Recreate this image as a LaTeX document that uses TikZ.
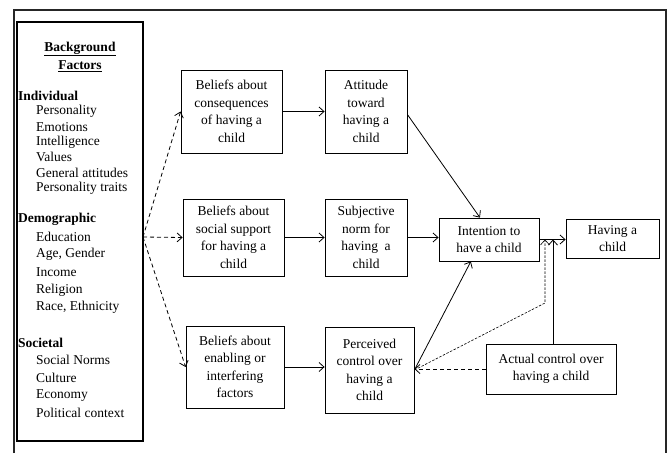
\documentclass[tikz,border=0pt]{standalone}
\usepackage{fontspec}
\setmainfont{Liberation Serif}
\usetikzlibrary{arrows.meta,calc}
\begin{document}
\begin{tikzpicture}[x=1pt,y=-1pt,
  box/.style={draw, line width=0.8pt, align=center, inner sep=0pt, font=\fontsize{13.5}{17.5}\selectfont},
  lbl/.style={anchor=west, inner sep=0pt, font=\fontsize{13.5}{16}\selectfont},
  hd/.style={anchor=west, inner sep=0pt, font=\fontsize{13.5}{16}\selectfont\bfseries},
  ttl/.style={inner sep=0pt, font=\fontsize{13.5}{16}\selectfont\bfseries},
  arr/.style={line width=0.8pt, -{Straight Barb[length=5pt,width=9pt]}},
  darr/.style={arr, dash pattern=on 4pt off 3pt},
  farr/.style={line width=0.6pt, dash pattern=on 2.5pt off 1.5pt, -{Straight Barb[length=5pt,width=9pt]}}
]
\useasboundingbox (0,0) rectangle (672,453);
\fill[white] (0,0) rectangle (672,453);
% outer frame
\draw[line width=1.6pt, black!85] (14,453) -- (14,10) -- (666,10) -- (666,453);

% background factors panel
\node[draw, line width=1.1pt, minimum width=126pt, minimum height=419pt, inner sep=0pt] (bg) at (80,231.5) {};
\node[ttl] (t1) at (80,49) {\underline{Background}};
\node[ttl] (t2) at (80,66) {\underline{Factors}};

\node[hd] (h1) at (18,96) {Individual};
\node[lbl] (i1) at (36,111) {Personality};
\node[lbl] (i2) at (36,127) {Emotions};
\node[lbl] (i3) at (36,142) {Intelligence};
\node[lbl] (i4) at (36,157) {Values};
\node[lbl] (i5) at (36,173) {General attitudes};
\node[lbl] (i6) at (36,188) {Personality traits};

\node[hd] (h2) at (18,219) {Demographic};
\node[lbl] (d1) at (36,237) {Education};
\node[lbl] (d2) at (36,254) {Age, Gender};
\node[lbl] (d3) at (36,272) {Income};
\node[lbl] (d4) at (36,290) {Religion};
\node[lbl] (d5) at (36,307) {Race, Ethnicity};

\node[hd] (h3) at (18,343) {Societal};
\node[lbl] (s1) at (36,360) {Social Norms};
\node[lbl] (s2) at (36,378) {Culture};
\node[lbl] (s3) at (36,396) {Economy};
\node[lbl] (s4) at (36,413) {Political context};

% boxes
\node[box, minimum width=101pt, minimum height=83pt] (b1) at (231.5,111.5) {Beliefs about\\consequences\\of having a\\child};
\node[box, minimum width=82pt, minimum height=83pt] (a) at (366,111.5) {Attitude\\toward\\having a\\child};
\node[box, minimum width=101pt, minimum height=77pt] (b2) at (233.5,237.5) {Beliefs about\\social support\\for having a\\child};
\node[box, minimum width=82pt, minimum height=77pt] (s) at (366,237.5) {Subjective\\norm for\\having\ \ a\\child};
\node[box, minimum width=98pt, minimum height=82pt] (b3) at (235,367) {Beliefs about\\enabling or\\interfering\\factors};
\node[box, minimum width=89pt, minimum height=86pt] (p) at (369.5,370) {Perceived\\control over\\having a\\child};
\node[box, minimum width=100pt, minimum height=43pt] (in) at (489,239.5) {Intention to\\have a child};
\node[box, minimum width=93pt, minimum height=39pt] (h) at (612.5,238.5) {Having a\\child};
\node[box, minimum width=130pt, minimum height=50pt] (ac) at (551,369) {Actual control over\\having a child};

% connectors
\coordinate (fork) at (143,237);
\draw[darr] (fork) -- (b1.west);
\draw[darr] (fork) -- (b2.west);
\draw[darr] (fork) -- (b3.west);

\draw[arr] (b1.east) -- (a.west);
\draw[arr] (b2.east) -- (s.west);
\draw[arr] (b3.east) -- (b3.east -| p.west);

\coordinate (aout) at ($(a.east)+(0,3)$);
\coordinate (intop) at ($(in.north west)!0.41!(in.north east)$);
\coordinate (inbot) at ($(in.south west)!0.32!(in.south east)$);
\draw[arr] (aout) -- (intop);
\draw[arr] (s.east) -- (s.east -| in.west);
\draw[arr] (p.east) -- (inbot);

\draw[arr] (in.east) -- (in.east -| h.west);

\draw[darr] (ac.west) -- (ac.west -| p.east);
\coordinate (kink) at (545,303);
\draw[farr] (p.east) -- (kink) -- (kink |- in.east);
\coordinate (acup) at ($(ac.north)+(2,0)$);
\draw[arr] (acup) -- (acup |- in.east);
\end{tikzpicture}
\end{document}
